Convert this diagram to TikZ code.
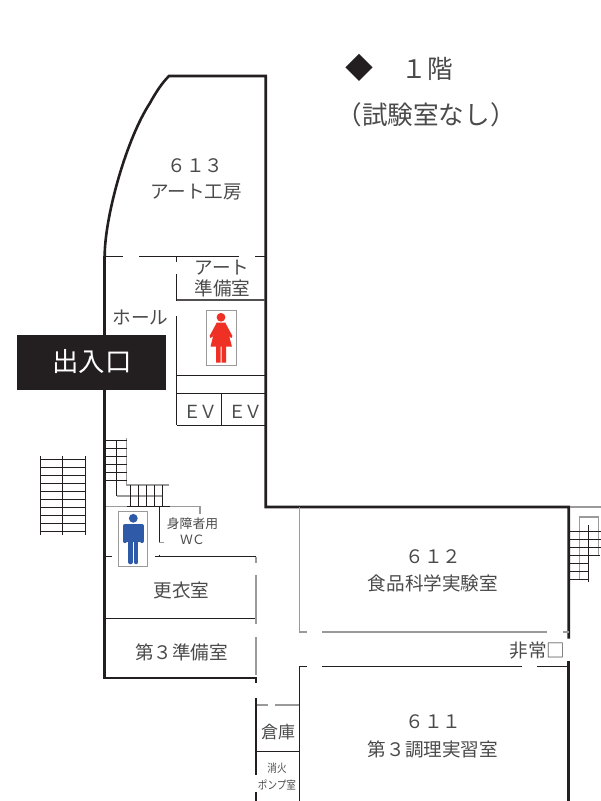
\documentclass[tikz,border=0pt]{standalone}
\usepackage{fontspec}
\setmainfont{Noto Sans CJK JP}
\newfontfamily\condfont[FakeStretch=0.84]{Noto Sans CJK JP}
\definecolor{ink}{HTML}{231F20}
\definecolor{txt}{HTML}{4A4A4A}
\definecolor{gr}{HTML}{9A9A9A}
\definecolor{wred}{HTML}{EE3124}
\definecolor{mblue}{HTML}{2F5AA8}
\newcommand{\fsz}[1]{\fontsize{#1}{#1}\selectfont}
\tikzset{
  wall/.style={draw=ink,line width=2.6pt,line join=miter},
  thin/.style={draw=ink,line width=0.9pt},
  med/.style={draw=ink!80,line width=1pt},
  soft/.style={draw=gr,line width=1.3pt},
  softw/.style={draw=gr,line width=1.8pt},
  lbl/.style={inner sep=0pt,text=txt,font=\fsz{18.6}},
  small/.style={lbl,font=\fsz{12.8}},
  tiny/.style={lbl,font=\condfont\fsz{11.4}},
  big/.style={lbl,font=\fsz{25.6}},
  sign/.style={draw=gr,line width=0.9pt,fill=white}
}
\begin{document}
\begin{tikzpicture}[x=1pt,y=-1pt]
\useasboundingbox (0,0) rectangle (601,801);
% walls
\draw[wall] (104.7,256) -- (104.7,253) .. controls (106,212) and (127,138) .. (150,103) .. controls (156,92) and (162,83) .. (169,76) -- (265.7,76) -- (265.7,507) -- (568.7,507) -- (568.7,638.5);
\draw[wall] (104.7,256) -- (104.7,678) -- (256,678) -- (256,683);
\draw[wall] (568.7,661) -- (568.7,801);
\draw[wall] (256,698) -- (256,775);
\draw[wall] (256,792) -- (256,801);
\draw[soft] (570,507) -- (601,507);
% upper partitions
\draw[thin] (105,256) -- (123,256) (139,256) -- (239,256);
\draw[thin] (255,256) -- (265,256);
\draw[thin] (176.7,256) -- (176.7,262) (176.7,274) -- (176.7,301) (176.7,316) -- (176.7,425);
\draw[med,draw=gr!40!ink,line width=1.2pt] (177,300) -- (265,300);
\draw[thin] (177,375) -- (265,375) (177,393) -- (265,393) (177,425) -- (265,425) (221.7,393) -- (221.7,425);
% inner stair
\draw[soft] (126.7,438) -- (126.7,485) -- (169,485);
\draw[soft] (116.7,496) -- (162,496);
\draw[thin] (116.7,440) -- (116.7,496);
\foreach \yy in {440,448,456,464,472,480} \draw[thin] (105,\yy) -- (126.7,\yy);
\foreach \xx in {130,138,146.7,154.3,162.7} \draw[thin] (\xx,485) -- (\xx,506.7);
\draw[soft] (106,506.7) -- (127,506.7) (170,506.7) -- (200,506.7) -- (200,514);
\draw[thin] (127,506.7) -- (170,506.7);
\draw[thin] (159,507) -- (159,542);
\draw[soft,line width=1pt] (159,542) -- (164,542);
\draw[thin] (105,556.7) -- (112,556.7) (155,556.7) -- (256,556.7) (159,554.5) -- (159,556.7);
\draw[thin] (105,618.3) -- (256,618.3);
\draw[softw] (256,557) -- (256,563) (256,575) -- (256,624) (256,637) -- (256,675);
% outside stair left
\foreach \xx in {40.7,62.3,85.3} \draw[thin] (\xx,456) -- (\xx,534.7);
\foreach \yy in {459.3,467.3,475.3,483.3,491.3,499.3,507.3,515.3,523.3,531.3} \draw[thin] (40.7,\yy) -- (85.3,\yy);
% right block
\draw[soft] (299.3,507) -- (299.3,632) -- (307,632) (322,632) -- (547,632) (563,632) -- (569,632);
\draw[thin] (299.3,801) -- (299.3,666.5) -- (307,666.5) (322,666.5) -- (522,666.5) (537,666.5) -- (568,666.5);
\draw[softw] (257,705) -- (268,705) (275,705) -- (299,705);
\draw[thin] (256,751) -- (299.3,751);
% right stair
\draw[soft] (579.3,579) -- (579.3,517) -- (598.7,517) -- (598.7,555);
\foreach \yy in {531,539,547} \draw[thin] (569,\yy) -- (601,\yy);
\draw[thin] (569,555) -- (600,555);
\foreach \yy in {563,571,579} \draw[thin] (569,\yy) -- (588.3,\yy);
\draw[thin] (588.3,525) -- (588.3,582);
% entrance
\node[fill=ink,minimum width=149pt,minimum height=55pt,inner sep=0pt,anchor=north west] (ent) at (17,335) {};
\node[inner sep=0pt,text=white,font=\fsz{26.4}] (entl) at (92,362) {出入口};
% woman sign
\draw[sign] (206.3,310) rectangle (236,365);
\fill[wred] (221,317.3) circle (4.4pt);
\fill[wred] (216.5,322.7) -- (225.5,322.7) -- (232,346.7) -- (210.5,346.7) -- cycle;
\draw[wred,line width=3pt,line cap=round] (217.5,324.5) -- (211,336.5) (224.5,324.5) -- (231,336.5);
\fill[wred] (216.2,346) rectangle (220.6,362.7) (221.6,346) rectangle (226,362.7);
% man sign
\draw[sign] (118.3,511.7) rectangle (147.3,566.3);
\fill[mblue] (133.3,518.3) circle (4.4pt);
\draw[mblue,line width=4.2pt,line cap=round,line join=round] (124.8,541) -- (124.8,526) -- (141.9,526) -- (141.9,541);
\fill[mblue] (126,524) rectangle (140.7,542);
\draw[mblue,line width=4.6pt,line cap=round] (130.6,540) -- (130.6,562) (136,540) -- (136,562);
% labels
\node[big,text=ink,font=\fsz{28}] (dia) at (359.5,68) {◆};
\node[big] (fl) at (427.5,69) {１階};
\node[big] (note) at (426,115) {（試験室なし）};
\node[lbl] (r613) at (195.5,165.5) {６１３};
\node[lbl] (r613n) at (196,192) {アート工房};
\node[lbl] (artp) at (222,267.5) {アート};
\node[lbl] (artp2) at (222.5,288) {準備室};
\node[lbl] (hall) at (140.5,317) {ホール};
\node[lbl,font=\fsz{18}] (ev1) at (200,412) {Ｅ\kern-2ptＶ};
\node[lbl,font=\fsz{18}] (ev2) at (245,412) {Ｅ\kern-2ptＶ};
\node[small] (wc1) at (192.5,524) {身障者用};
\node[small] (wc2) at (192.5,539.5) {Ｗ\kern-1ptＣ};
\node[lbl] (kou) at (181.5,590) {更衣室};
\node[lbl] (jun3) at (181.5,652) {第３準備室};
\node[lbl] (r612) at (433.5,557) {６１２};
\node[lbl] (r612n) at (433,583) {食品科学実験室};
\node[lbl] (r611) at (433.5,722) {６１１};
\node[lbl] (r611n) at (433,749) {第３調理実習室};
\node[lbl] (exit) at (537.5,651) {非常□};
\node[lbl,font=\fsz{17}] (sou) at (278,732) {倉庫};
\node[tiny] (sho) at (277,768) {消火};
\node[tiny] (pump) at (277,785) {ポンプ室};
\end{tikzpicture}
\end{document}
